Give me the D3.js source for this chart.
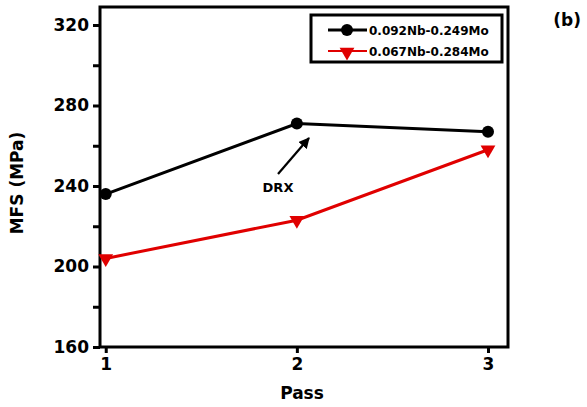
<!DOCTYPE html>
<html><head><meta charset="utf-8">
<script src="https://cdn.jsdelivr.net/npm/d3@7/dist/d3.min.js"></script>
<style>body{margin:0;background:#fff}svg{display:block}text{font-family:"DejaVu Sans",Verdana,sans-serif;font-weight:bold}</style>
</head><body>
<svg id="c" width="587" height="407"></svg>
<script>
const passes = [1, 2, 3];
const seriesNames = ["0.092Nb-0.249Mo", "0.067Nb-0.284Mo"];
const seriesA = [236, 271, 267];
const seriesB = [204, 223, 258];
const yTicks = [160, 200, 240, 280, 320];
const yMinor = [180, 220, 260, 300];

const svg = d3.select("#c");
const L = 100, R = 508, T = 7, B = 347;
const x = d3.scaleLinear().domain([0.97, 3.0]).range([L, R - 20]);
const y = d3.scaleLinear().domain([160, 320]).range([B, 25]);

// frame
svg.append("rect").attr("x", L).attr("y", T).attr("width", R - L).attr("height", B - T)
  .attr("fill", "none").attr("stroke", "#000").attr("stroke-width", 3);

// y axis
const yAx = svg.append("g").attr("transform", `translate(${L},0)`)
  .call(d3.axisLeft(y).tickValues(yTicks).tickSize(7).tickPadding(4).tickFormat(d3.format("d")));
yAx.select(".domain").remove();
yAx.selectAll(".tick line").attr("stroke-width", 3);
yAx.selectAll("text").attr("font-size", 17).attr("fill", "#000").attr("font-family", "DejaVu Sans").attr("font-weight", "bold");
const yAm = svg.append("g").attr("transform", `translate(${L},0)`)
  .call(d3.axisLeft(y).tickValues(yMinor).tickSize(7).tickFormat(""));
yAm.select(".domain").remove();
yAm.selectAll(".tick line").attr("stroke-width", 3);

// x axis
const xAx = svg.append("g").attr("transform", `translate(0,${B})`)
  .call(d3.axisBottom(x).tickValues(passes).tickSize(6).tickPadding(5).tickFormat(d3.format("d")));
xAx.select(".domain").remove();
xAx.selectAll(".tick line").attr("stroke-width", 3);
xAx.selectAll("text").attr("font-size", 17).attr("fill", "#000").attr("font-family", "DejaVu Sans").attr("font-weight", "bold");

// titles
svg.append("text").attr("x", 302).attr("y", 399).attr("text-anchor", "middle").attr("font-size", 17).text("Pass");
svg.append("text").attr("transform", "translate(23,183) rotate(-90)").attr("text-anchor", "middle").attr("font-size", 17).text("MFS (MPa)");
svg.append("text").attr("x", 581).attr("y", 26).attr("text-anchor", "end").attr("font-size", 17).text("(b)");

const line = d3.line().x((d, i) => x(passes[i])).y(d => y(d));
const tri = d3.symbol().type(d3.symbolTriangle).size(95);

// series A
svg.append("path").datum(seriesA).attr("d", line).attr("fill", "none").attr("stroke", "#000").attr("stroke-width", 3);
svg.selectAll(".ma").data(seriesA).enter().append("circle")
  .attr("cx", (d, i) => x(passes[i])).attr("cy", d => y(d)).attr("r", 6).attr("fill", "#000");
// series B
svg.append("path").datum(seriesB).attr("d", line).attr("fill", "none").attr("stroke", "#e00000").attr("stroke-width", 3);
svg.selectAll(".mb").data(seriesB).enter().append("path")
  .attr("d", tri).attr("fill", "#e00000")
  .attr("transform", (d, i) => `translate(${x(passes[i])},${y(d)}) rotate(180)`);

// DRX annotation
svg.append("defs").append("marker").attr("id", "ah").attr("viewBox", "0 0 10 10").attr("refX", 9).attr("refY", 5)
  .attr("markerWidth", 5).attr("markerHeight", 5).attr("orient", "auto")
  .append("path").attr("d", "M0,0 L10,5 L0,10 z").attr("fill", "#000");
svg.append("line").attr("x1", 278).attr("y1", 174).attr("x2", 309).attr("y2", 138)
  .attr("stroke", "#000").attr("stroke-width", 2.2).attr("marker-end", "url(#ah)");
svg.append("text").attr("x", 278).attr("y", 192).attr("text-anchor", "middle").attr("font-size", 13).text("DRX");

// legend
const lg = svg.append("g");
lg.append("rect").attr("x", 311).attr("y", 15).attr("width", 191).attr("height", 47)
  .attr("fill", "#fff").attr("stroke", "#000").attr("stroke-width", 3);
lg.append("line").attr("x1", 328).attr("x2", 367).attr("y1", 30).attr("y2", 30).attr("stroke", "#000").attr("stroke-width", 3);
lg.append("circle").attr("cx", 347).attr("cy", 30).attr("r", 6).attr("fill", "#000");
lg.append("line").attr("x1", 328).attr("x2", 367).attr("y1", 51).attr("y2", 51).attr("stroke", "#e00000").attr("stroke-width", 2);
lg.append("path").attr("d", tri).attr("fill", "#e00000").attr("transform", "translate(347,52) rotate(180)");
lg.append("text").attr("x", 369).attr("y", 35).attr("font-size", 12).text(seriesNames[0]);
lg.append("text").attr("x", 369).attr("y", 56).attr("font-size", 12).text(seriesNames[1]);
</script>
</body></html>
